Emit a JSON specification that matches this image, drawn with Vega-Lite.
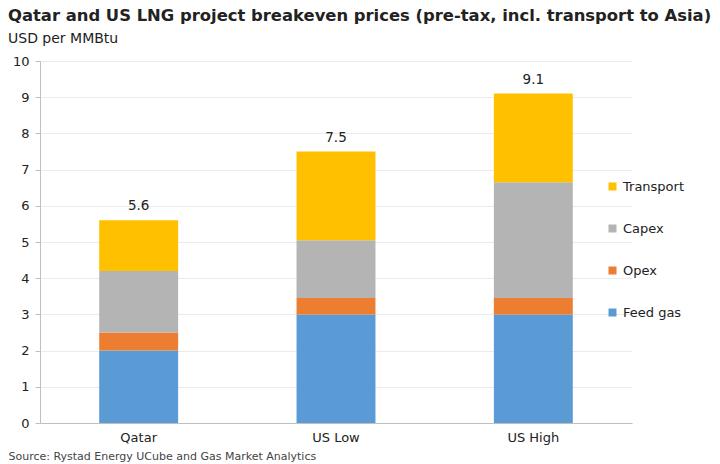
{
  "$schema": "https://vega.github.io/schema/vega-lite/v6.json",
  "width": 592,
  "height": 362,
  "autosize": {"type": "none"},
  "padding": {"left": 40, "top": 61, "right": 88, "bottom": 41},
  "background": "white",
  "config": {
    "font": "DejaVu Sans",
    "view": {"stroke": null}
  },
  "title": {
    "text": "Qatar and US LNG project breakeven prices (pre-tax, incl. transport to Asia)",
    "subtitle": "USD per MMBtu",
    "anchor": "start",
    "frame": "group",
    "dx": -32,
    "offset": 9,
    "fontSize": 16.4,
    "fontWeight": "bold",
    "color": "#222222",
    "subtitleFontSize": 14,
    "subtitleColor": "#222222",
    "subtitlePadding": 8
  },
  "data": {
    "values": [
      {"project": "Qatar", "component": "Feed gas", "value": 2.0, "rank": 1},
      {"project": "Qatar", "component": "Opex", "value": 0.5, "rank": 2},
      {"project": "Qatar", "component": "Capex", "value": 1.7, "rank": 3},
      {"project": "Qatar", "component": "Transport", "value": 1.4, "rank": 4},
      {"project": "US Low", "component": "Feed gas", "value": 3.0, "rank": 1},
      {"project": "US Low", "component": "Opex", "value": 0.45, "rank": 2},
      {"project": "US Low", "component": "Capex", "value": 1.6, "rank": 3},
      {"project": "US Low", "component": "Transport", "value": 2.45, "rank": 4},
      {"project": "US High", "component": "Feed gas", "value": 3.0, "rank": 1},
      {"project": "US High", "component": "Opex", "value": 0.45, "rank": 2},
      {"project": "US High", "component": "Capex", "value": 3.2, "rank": 3},
      {"project": "US High", "component": "Transport", "value": 2.45, "rank": 4}
    ]
  },
  "encoding": {
    "x": {
      "field": "project",
      "type": "nominal",
      "sort": ["Qatar", "US Low", "US High"],
      "scale": {"paddingInner": 0.6, "paddingOuter": 0.3},
      "axis": {
        "labelAngle": 0,
        "labelFontSize": 13,
        "labelColor": "#222222",
        "labelPadding": 8,
        "ticks": false,
        "domainColor": "#BFBFBF",
        "title": "Source: Rystad Energy UCube and Gas Market Analytics",
        "titleFontSize": 11,
        "titleFontWeight": "normal",
        "titleColor": "#444444",
        "titleAnchor": "start",
        "titleAlign": "left",
        "titleBaseline": "bottom",
        "titleX": -32,
        "titleY": 38
      }
    }
  },
  "resolve": {"axis": {"y": "independent"}},
  "layer": [
    {
      "mark": {"type": "bar"},
      "encoding": {
        "y": {
          "field": "value",
          "type": "quantitative",
          "stack": "zero",
          "scale": {"domain": [0, 10], "nice": false},
          "axis": {
            "title": null,
            "values": [0, 1, 2, 3, 4, 5, 6, 7, 8, 9, 10],
            "labelOverlap": false,
            "labelFontSize": 13,
            "labelColor": "#222222",
            "gridColor": "#EBEBEB",
            "domainColor": "#BFBFBF",
            "tickColor": "#BFBFBF",
            "tickSize": 5,
            "labelPadding": 6
          }
        },
        "color": {
          "field": "component",
          "type": "nominal",
          "scale": {
            "domain": ["Transport", "Capex", "Opex", "Feed gas"],
            "range": ["#FFC000", "#B4B4B4", "#ED7D31", "#5B9BD5"]
          },
          "legend": {
            "title": null,
            "orient": "none",
            "legendX": 566,
            "legendY": 119,
            "symbolType": "square",
            "symbolSize": 64,
            "symbolStrokeWidth": 0,
            "labelFontSize": 13,
            "labelColor": "#222222",
            "rowPadding": 28,
            "labelOffset": 4
          }
        },
        "order": {"field": "rank", "type": "quantitative"}
      }
    },
    {
      "mark": {"type": "text", "baseline": "bottom", "dy": -7, "fontSize": 13.5, "color": "#222222"},
      "transform": [
        {"aggregate": [{"op": "sum", "field": "value", "as": "total"}], "groupby": ["project"]}
      ],
      "encoding": {
        "y": {"field": "total", "type": "quantitative", "axis": null},
        "text": {"field": "total", "type": "quantitative", "format": ".1f"}
      }
    }
  ]
}
